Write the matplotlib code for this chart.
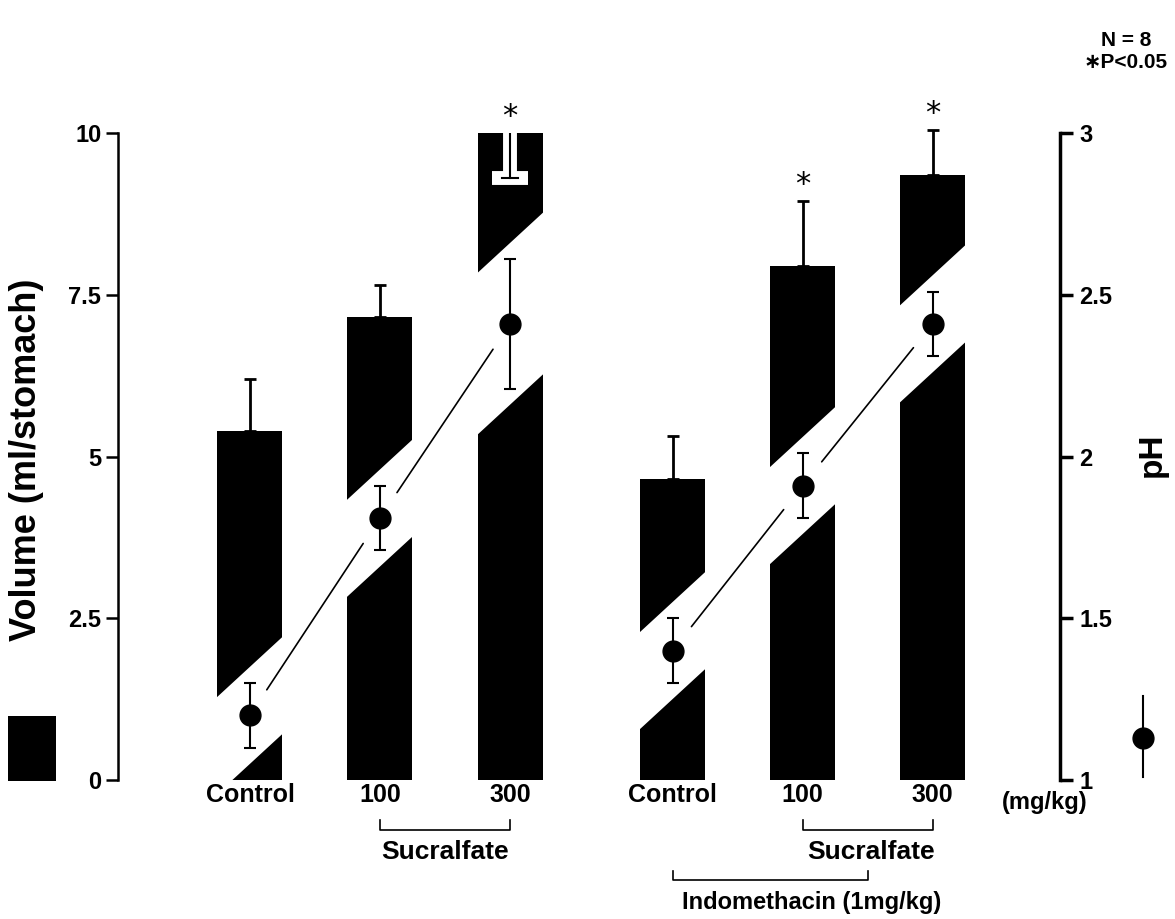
import numpy as np
import matplotlib
matplotlib.use('Agg')
import matplotlib.pyplot as plt
from matplotlib.patches import Polygon, Rectangle
from matplotlib.lines import Line2D
import matplotlib.transforms as mtransforms

plt.rcParams['font.family'] = ['Liberation Sans', 'DejaVu Sans']
plt.rcParams['font.weight'] = 'bold'

# data
tick_labels = ['Control', '100', '300', 'Control', '100', '300']
volume = [5.4, 7.15, 10.0, 4.65, 7.95, 9.35]      # ml/stomach
volume_se = [0.8, 0.5, 0.7, 0.66, 1.0, 0.7]
ph = [1.2, 1.81, 2.41, 1.4, 1.91, 2.41]
ph_se = [0.1, 0.1, 0.2, 0.1, 0.1, 0.1]
significant = [False, False, True, False, True, True]

# layout
xpos = np.array([0, 1, 2, 3.25, 4.25, 5.25])
width = 0.5
slope = 0.37  # pH per x unit of the white band

fig = plt.figure(figsize=(11.75, 9.19), dpi=100)
ax = fig.add_axes([118/1175, 1-780/919, (1060-118)/1175, (780-133)/919])
ax2 = ax.twinx()

ax.set_xlim(-1.015, 6.23)
ax.set_ylim(0, 10)
ax2.set_ylim(1, 3)

bars = ax.bar(xpos, volume, width=width, color='black', zorder=2)

# error bars on volume (upper only); the one that reaches the top is drawn inside in white
for b, x, v, e, s in zip(bars, xpos, volume, volume_se, significant):
    if v >= 10:
        ax.plot([x, x], [v, v - e], color='white', lw=10, solid_capstyle='butt', zorder=3)
        ax.plot([x - 0.135, x + 0.135], [v - e, v - e], color='white', lw=10,
                solid_capstyle='butt', zorder=3)
        ax.plot([x, x], [v, v - e], color='black', lw=1.5, zorder=4)
        ax.plot([x - 0.06, x + 0.06], [v - e, v - e], color='black', lw=1.5, zorder=4)
        top = v
    else:
        ax.errorbar(x, v, yerr=[[0], [e]], fmt='none', ecolor='black', elinewidth=2,
                    capsize=4.5, capthick=2, zorder=1, clip_on=False)
        top = v + e
    if s:
        ax.text(x, top + 0.03, '*', ha='center', va='bottom', fontsize=22,
                fontweight='normal', family='DejaVu Sans', clip_on=False)

# white diagonal bands behind the pH points, clipped to each bar
for b, x, p, e in zip(bars, xpos, ph, ph_se):
    half = e + 0.05
    xl, xr = x - 0.4, x + 0.4
    pts = [(xl, p + slope*(xl - x) - half), (xr, p + slope*(xr - x) - half),
           (xr, p + slope*(xr - x) + half), (xl, p + slope*(xl - x) + half)]
    band = Polygon(pts, closed=True, facecolor='white', edgecolor='none', zorder=1)
    ax2.add_patch(band)
    band.set_clip_path(b)

# pH means and connecting lines
ax2.errorbar(xpos, ph, yerr=ph_se, fmt='o', color='black', ms=15, elinewidth=1.5,
             capsize=4.5, capthick=1.5, zorder=5)
for grp in (slice(0, 3), slice(3, 6)):
    gx, gp = xpos[grp], ph[grp]
    for i in range(len(gx) - 1):
        ax2.annotate('', xy=(gx[i+1], gp[i+1]), xytext=(gx[i], gp[i]),
                     arrowprops=dict(arrowstyle='-', color='black', lw=1.2,
                                     shrinkA=22, shrinkB=22), zorder=4)

# axes styling
for a in (ax, ax2):
    a.spines['top'].set_visible(False)
    a.spines['bottom'].set_visible(False)
ax.spines['right'].set_visible(False)
ax2.spines['left'].set_visible(False)
ax.spines['left'].set_linewidth(1.8)
ax2.spines['right'].set_linewidth(2.5)

ax.set_yticks([0, 2.5, 5, 7.5, 10], ['0', '2.5', '5', '7.5', '10'])
ax.tick_params(axis='y', length=9, width=1.8, pad=3, labelsize=17)
ax2.set_yticks([1, 1.5, 2, 2.5, 3], ['1', '1.5', '2', '2.5', '3'])
ax2.tick_params(axis='y', length=9, width=2.5, pad=5, labelsize=17)

ax.set_xticks(xpos, tick_labels)
ax.tick_params(axis='x', length=0, pad=2, labelsize=18)

fig.text(27/1175, 1-460/919, 'Volume (ml/stomach)', rotation=90, ha='center', va='center',
         fontsize=26)
fig.text(1152/1175, 1-455/919, 'pH', rotation=90, ha='center', va='center', fontsize=24)

# group brackets below the axis
trans = mtransforms.blended_transform_factory(ax.transData, ax.transAxes)

def bracket(x0, x1, y, text, tx, ty, size):
    ax.plot([x0, x0, x1, x1], [y + 0.015, y, y, y + 0.015], color='black', lw=1.2,
            transform=trans, clip_on=False)
    ax.text(tx, ty, text, transform=trans, ha='center', va='center', fontsize=size)

bracket(xpos[1], xpos[2], -0.077, 'Sucralfate', (xpos[1] + xpos[2]) / 2, -0.111, 19)
bracket(xpos[4], xpos[5], -0.077, 'Sucralfate', (xpos[4] + xpos[5]) / 2 + 0.03, -0.111, 19)
bracket(xpos[3], (xpos[4] + xpos[5]) / 2, -0.155, 'Indomethacin (1mg/kg)', 4.32, -0.19, 17)

fig.text(1045/1175, 1-803/919, '(mg/kg)', ha='center', va='center', fontsize=17)
fig.text(1126/1175, 1-40/919, 'N = 8', ha='center', va='center', fontsize=15)
fig.text(1126/1175, 1-63/919, '\u2217P<0.05', ha='center', va='center', fontsize=15)

# legend symbols
fig.add_artist(Rectangle((8/1175, 1-781/919), 48/1175, 65/919, transform=fig.transFigure,
                         facecolor='black', edgecolor='none'))
fig.add_artist(Line2D([1143/1175, 1143/1175], [1-696/919, 1-777/919],
                      transform=fig.transFigure, color='black', lw=1.5))
fig.add_artist(Line2D([1143/1175], [1-738/919], transform=fig.transFigure, marker='o',
                      ms=15, color='black'))

fig.savefig('out.png', dpi=100)
